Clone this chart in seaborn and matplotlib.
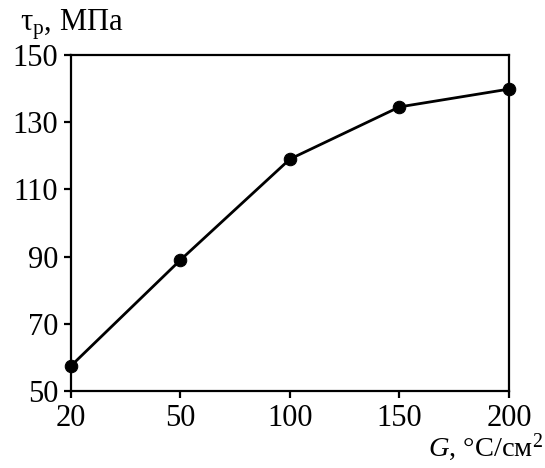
import matplotlib
matplotlib.use("Agg")
import matplotlib.pyplot as plt
import seaborn as sns
import pandas as pd

categories = ["20", "50", "100", "150", "200"]
values = [57.5, 89.0, 119.0, 134.5, 139.8]
y_ticks = [50, 70, 90, 110, 130, 150]

sns.set_theme(style="ticks")
plt.rcParams['font.family'] = ['Liberation Serif', 'DejaVu Serif']
plt.rcParams['mathtext.fontset'] = 'custom'
plt.rcParams['mathtext.rm'] = 'Liberation Serif'
plt.rcParams['mathtext.it'] = 'Liberation Serif:italic'
plt.rcParams['text.color'] = 'black'

df = pd.DataFrame({"x": range(len(categories)), "y": values})

fig = plt.figure(figsize=(5.45, 4.68), dpi=100)
ax = fig.add_axes([0.130, 0.1640, 0.804, 0.7190])
sns.lineplot(data=df, x="x", y="y", ax=ax, color="black", linewidth=2.0,
             marker="o", markersize=9, markeredgecolor="black", markerfacecolor="black")

ax.set_xlim(0, len(categories) - 1)
ax.set_ylim(50, 150)
ax.set_xticks(range(len(categories)))
ax.set_xticklabels(categories)
ax.set_yticks(y_ticks)
ax.set_xlabel("")
ax.set_ylabel("")
for s in ax.spines.values():
    s.set_visible(True)
    s.set_linewidth(1.6)
    s.set_color("black")
ax.tick_params(axis="both", direction="out", length=5, width=1.6, colors="black",
               labelcolor="black", labelsize=22, pad=4)
ax.tick_params(axis="x", pad=4)
ax.lines[0].set_clip_on(False)

fig.text(0.037, 0.935, r"$\mathrm{τ}_\mathrm{p}$, МПа", fontsize=22, ha="left", va="baseline")
fig.text(0.996, 0.026, r"$G$, °C/см$^2$", fontsize=20.5, ha="right", va="baseline")

fig.savefig("out.png", dpi=100)
